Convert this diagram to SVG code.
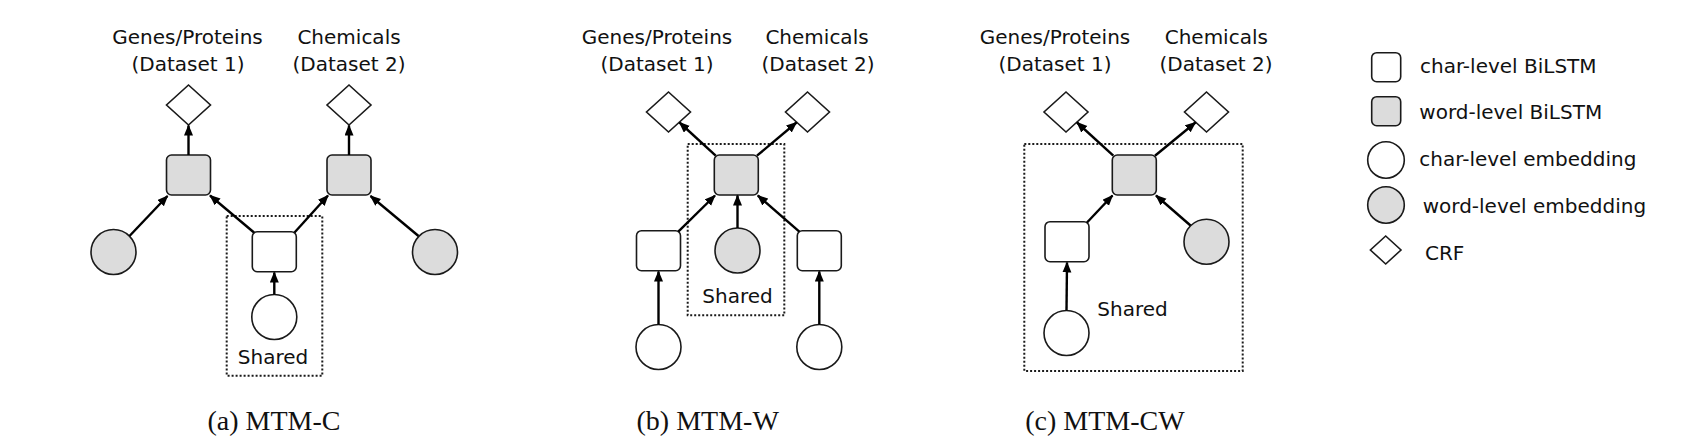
<svg xmlns="http://www.w3.org/2000/svg" width="1700" height="448" viewBox="0 0 1700 448">
<style>
.bg{fill:#fff}
.lbl{font-family:"DejaVu Sans","Liberation Sans",sans-serif;font-size:20px;fill:#111}
.mid{text-anchor:middle}
.cap{font-family:"Liberation Serif","Times New Roman",serif;font-size:28px;fill:#111;text-anchor:middle}
.wsq{fill:#fff;stroke:#1a1a1a;stroke-width:1.6}
.gsq{fill:#dcdcdc;stroke:#1a1a1a;stroke-width:1.6}
.crf{fill:#fff;stroke:#1a1a1a;stroke-width:1.6}
.shared{fill:none;stroke:#1a1a1a;stroke-width:2;stroke-dasharray:2 2}
.edge{stroke:#000;stroke-width:2.4;fill:none;marker-end:url(#arr)}
</style>
<defs>
<marker id="arr" markerUnits="userSpaceOnUse" markerWidth="12" markerHeight="10" refX="10" refY="4.5" orient="auto">
<path d="M0,0 L11,4.5 L0,9 z" fill="#000"/>
</marker>
</defs>
<rect class="bg" x="0" y="0" width="1700" height="448"/>

<!-- Panel (a) -->
<g id="a-labels">
<text class="lbl mid" x="187.5" y="44">Genes/Proteins</text>
<text class="lbl mid" x="188" y="71">(Dataset 1)</text>
<text class="lbl mid" x="349" y="44">Chemicals</text>
<text class="lbl mid" x="349" y="71">(Dataset 2)</text>
</g>
<g id="a-shared-box"><rect class="shared" x="226.7" y="216" width="95.6" height="159.7"/><text class="lbl mid" x="273" y="364">Shared</text></g>
<g id="a-crf1"><polygon class="crf" points="188.5,85 210.5,105 188.5,125 166.5,105"/></g>
<g id="a-crf2"><polygon class="crf" points="349,85 371,105 349,125 327,105"/></g>
<g id="a-wlstm1"><rect class="gsq" x="166.5" y="155" width="44" height="40" rx="5"/></g>
<g id="a-wlstm2"><rect class="gsq" x="327" y="155" width="44" height="40" rx="5"/></g>
<g id="a-wemb1"><circle class="gsq" cx="113.5" cy="252" r="22.5"/></g>
<g id="a-wemb2"><circle class="gsq" cx="435" cy="252" r="22.5"/></g>
<g id="a-clstm"><rect class="wsq" x="252.3" y="231.7" width="44" height="40" rx="5"/></g>
<g id="a-cemb"><circle class="wsq" cx="274.3" cy="317" r="22.5"/></g>

<!-- Panel (b) -->
<g id="b-labels">
<text class="lbl mid" x="657" y="44">Genes/Proteins</text>
<text class="lbl mid" x="657" y="71">(Dataset 1)</text>
<text class="lbl mid" x="817" y="44">Chemicals</text>
<text class="lbl mid" x="818" y="71">(Dataset 2)</text>
</g>
<g id="b-shared-box"><rect class="shared" x="687.7" y="144" width="96.6" height="171.3"/><text class="lbl mid" x="737.5" y="303.3">Shared</text></g>
<g id="b-crf1"><polygon class="crf" points="668.5,92 690.5,112 668.5,132 646.5,112"/></g>
<g id="b-crf2"><polygon class="crf" points="807.5,92 829.5,112 807.5,132 785.5,112"/></g>
<g id="b-wlstm"><rect class="gsq" x="714.3" y="155" width="44" height="40" rx="5"/></g>
<g id="b-wemb"><circle class="gsq" cx="737.5" cy="250.5" r="22.5"/></g>
<g id="b-clstm1"><rect class="wsq" x="636.5" y="230.7" width="44" height="40" rx="5"/></g>
<g id="b-clstm2"><rect class="wsq" x="797.3" y="230.7" width="44" height="40" rx="5"/></g>
<g id="b-cemb1"><circle class="wsq" cx="658.5" cy="347" r="22.5"/></g>
<g id="b-cemb2"><circle class="wsq" cx="819.3" cy="347" r="22.5"/></g>

<!-- Panel (c) -->
<g id="c-labels">
<text class="lbl mid" x="1055" y="44">Genes/Proteins</text>
<text class="lbl mid" x="1055" y="71">(Dataset 1)</text>
<text class="lbl mid" x="1216.3" y="44">Chemicals</text>
<text class="lbl mid" x="1216" y="71">(Dataset 2)</text>
</g>
<g id="c-shared-box"><rect class="shared" x="1024.3" y="144" width="218.4" height="227"/><text class="lbl mid" x="1132.5" y="315.7">Shared</text></g>
<g id="c-crf1"><polygon class="crf" points="1066,92 1088,112 1066,132 1044,112"/></g>
<g id="c-crf2"><polygon class="crf" points="1206.5,92 1228.5,112 1206.5,132 1184.5,112"/></g>
<g id="c-wlstm"><rect class="gsq" x="1112.3" y="155" width="44" height="40" rx="5"/></g>
<g id="c-clstm"><rect class="wsq" x="1045" y="221.7" width="44" height="40" rx="5"/></g>
<g id="c-wemb"><circle class="gsq" cx="1206.5" cy="241.7" r="22.5"/></g>
<g id="c-cemb"><circle class="wsq" cx="1066.5" cy="333" r="22.5"/></g>

<!-- Connectors -->
<g id="connectors">
<line class="edge" x1="129.5" y1="236" x2="167.5" y2="196"/>
<line class="edge" x1="254" y1="232.5" x2="210" y2="195.5"/>
<line class="edge" x1="294.5" y1="232.5" x2="328" y2="195.5"/>
<line class="edge" x1="418.5" y1="236" x2="370.5" y2="196"/>
<line class="edge" x1="274.3" y1="294.5" x2="274.3" y2="272.5"/>
<line class="edge" x1="188.5" y1="155" x2="188.5" y2="125.5"/>
<line class="edge" x1="349" y1="155" x2="349" y2="125.5"/>

<line class="edge" x1="715.7" y1="155.7" x2="679.5" y2="122.5"/>
<line class="edge" x1="757" y1="155.7" x2="796.5" y2="122.5"/>
<line class="edge" x1="678.3" y1="231.7" x2="715" y2="195.5"/>
<line class="edge" x1="799.3" y1="231.7" x2="757.8" y2="195.5"/>
<line class="edge" x1="737.5" y1="228" x2="737.5" y2="195.5"/>
<line class="edge" x1="658.5" y1="324.5" x2="658.5" y2="271.5"/>
<line class="edge" x1="819.3" y1="324.5" x2="819.3" y2="271.5"/>

<line class="edge" x1="1113.3" y1="155.7" x2="1077" y2="122.5"/>
<line class="edge" x1="1155" y1="155.7" x2="1195.5" y2="122.5"/>
<line class="edge" x1="1087" y1="222.5" x2="1112.5" y2="195.5"/>
<line class="edge" x1="1190.5" y1="225.5" x2="1156" y2="195.5"/>
<line class="edge" x1="1066.5" y1="310.5" x2="1067" y2="262.5"/>
</g>

<!-- Captions -->
<g id="captions">
<text class="cap" x="274" y="430">(a) MTM-C</text>
<text class="cap" x="707.7" y="430">(b) MTM-W</text>
<text class="cap" x="1105" y="430">(c) MTM-CW</text>
</g>

<!-- Legend -->
<g id="legend-clstm"><rect class="wsq" x="1371.7" y="52.7" width="29" height="29" rx="5"/><text class="lbl" x="1420" y="73.3">char-level BiLSTM</text></g>
<g id="legend-wlstm"><rect class="gsq" x="1371.7" y="96.7" width="29" height="29" rx="5"/><text class="lbl" x="1419.3" y="119.3">word-level BiLSTM</text></g>
<g id="legend-cemb"><circle class="wsq" cx="1386" cy="160" r="18.3"/><text class="lbl" x="1419.3" y="166">char-level embedding</text></g>
<g id="legend-wemb"><circle class="gsq" cx="1386" cy="205" r="18.3"/><text class="lbl" x="1422.7" y="212.5">word-level embedding</text></g>
<g id="legend-crf"><polygon class="crf" points="1385.7,236 1401,250 1385.7,264 1370.4,250"/><text class="lbl" x="1425" y="260">CRF</text></g>
</svg>
